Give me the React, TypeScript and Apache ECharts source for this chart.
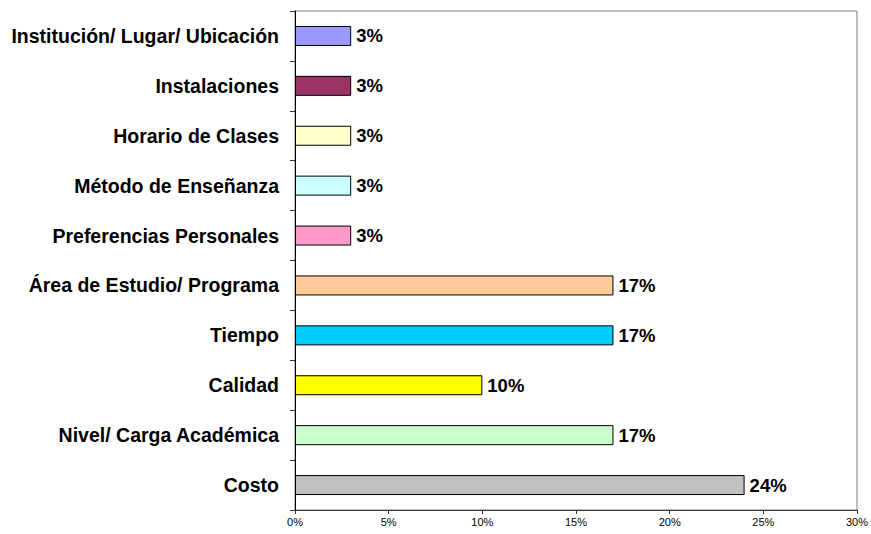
import React, { useEffect, useRef } from "react";
import * as echarts from "echarts";

const categories = [
  "Costo",
  "Nivel/ Carga Académica",
  "Calidad",
  "Tiempo",
  "Área de Estudio/ Programa",
  "Preferencias Personales",
  "Método de Enseñanza",
  "Horario de Clases",
  "Instalaciones",
  "Institución/ Lugar/ Ubicación",
];
const values = [24, 17, 10, 17, 17, 3, 3, 3, 3, 3];
const colors = [
  "#C0C0C0",
  "#CCFFCC",
  "#FFFF00",
  "#00CCFF",
  "#FFCC99",
  "#FF99CC",
  "#CCFFFF",
  "#FFFFCC",
  "#993366",
  "#9999FF",
];
const xTicks = { min: 0, max: 30, interval: 5 };

export default function App() {
  const ref = useRef<HTMLDivElement>(null);
  useEffect(() => {
    document.body.style.margin = "0";
    const chart = echarts.init(ref.current!, undefined, { renderer: "svg" });
    chart.setOption({
      animation: false,
      backgroundColor: "#ffffff",
      grid: {
        left: 295,
        right: 11,
        top: 11,
        bottom: 24,
        show: true,
        borderColor: "#808080",
        borderWidth: 1,
        backgroundColor: "transparent",
      },
      xAxis: {
        type: "value",
        min: xTicks.min,
        max: xTicks.max,
        interval: xTicks.interval,
        splitLine: { show: false },
        axisLine: { show: true, lineStyle: { color: "#333333", width: 1 } },
        axisTick: { show: true, length: 4, lineStyle: { color: "#333333" } },
        axisLabel: {
          formatter: "{value}%",
          color: "#000",
          fontFamily: "Liberation Sans, Arial, sans-serif",
          fontSize: 11,
          margin: 6,
        },
      },
      yAxis: {
        type: "category",
        data: categories,
        axisLine: { show: true, lineStyle: { color: "#000000", width: 1 } },
        axisTick: { show: true, length: 5, alignWithLabel: false, lineStyle: { color: "#333333" } },
        axisLabel: {
          color: "#000",
          fontFamily: "Liberation Sans, Arial, sans-serif",
          fontSize: 19.5,
          fontWeight: "bold",
          margin: 16,
        },
      },
      series: [
        {
          type: "bar",
          data: values.map((v, i) => ({ value: v, itemStyle: { color: colors[i] } })),
          barWidth: 20,
          itemStyle: { borderColor: "#000", borderWidth: 1 },
          label: {
            show: true,
            position: "right",
            distance: 5,
            formatter: "{c}%",
            color: "#000",
            fontFamily: "Liberation Sans, Arial, sans-serif",
            fontSize: 18.5,
            fontWeight: "bold",
          },
        },
      ],
    });
    return () => chart.dispose();
  }, []);
  return <div ref={ref} style={{ width: 871, height: 534 }} />;
}
